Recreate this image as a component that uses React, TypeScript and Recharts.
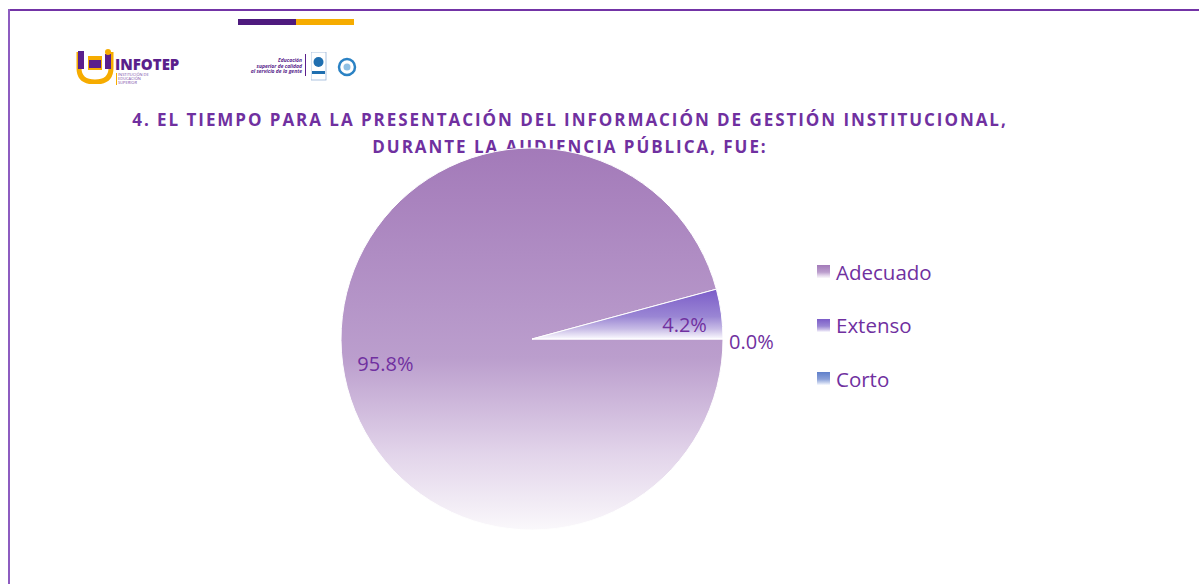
import { PieChart, Pie, Cell, Legend } from "recharts";

const categories = ["Adecuado", "Extenso", "Corto"];
const percentages = [95.8, 4.2, 0.0];
const titleLines = [
  "4. EL TIEMPO PARA LA PRESENTACIÓN DEL INFORMACIÓN DE GESTIÓN INSTITUCIONAL,",
  "DURANTE LA AUDIENCIA PÚBLICA, FUE:",
];

const gradients = [
  { id: "g-adecuado", top: "#a37ab9", mid: "#bb9ecd", low: "#e2d4ea", end: "#faf8fb" },
  { id: "g-extenso", top: "#7b5cc8", mid: "#9a86d4", low: "#c8bce6", end: "#fbfaff" },
  { id: "g-corto", top: "#5f7fca", mid: "#8aa0d8", low: "#c3cfec", end: "#f8faff" },
];

const data = categories.map((name, i) => ({ name, value: percentages[i] }));
const TEXT = "#7030a0";
const RAD = Math.PI / 180;

const renderLabel = (p: any) => {
  const { cx, cy, midAngle, outerRadius, value } = p;
  if (value === 0) {
    return (
      <text x={cx + outerRadius + 6} y={cy + 2} fill={TEXT} fontSize={20} fontFamily="Open Sans" textAnchor="start" dominantBaseline="central">
        {value.toFixed(1)}%
      </text>
    );
  }
  const r = outerRadius * 0.79;
  const x = cx + r * Math.cos(-midAngle * RAD) + 3;
  const y = cy + r * Math.sin(-midAngle * RAD) + 5;
  return (
    <text x={x} y={y} fill={TEXT} fontSize={20} fontFamily="Open Sans" textAnchor="middle" dominantBaseline="central">
      {value.toFixed(1)}%
    </text>
  );
};

const LegendBox = () => (
  <div style={{ fontFamily: "Open Sans", color: TEXT, fontSize: 20.5 }}>
    {categories.map((c, i) => (
      <div key={c} style={{ display: "flex", alignItems: "center", height: 53.5 }}>
        <svg width={13} height={13} style={{ marginRight: 6 }}>
          <rect width={13} height={13} fill={`url(#${gradients[i].id})`} />
        </svg>
        <span>{c}</span>
      </div>
    ))}
  </div>
);

export default function App() {
  return (
    <div style={{ position: "absolute", left: 0, top: 0, width: 1199, height: 584, background: "#fff", overflow: "hidden" }}>
      {/* frame */}
      <div style={{ position: "absolute", left: 8, top: 9, width: 1191, height: 2, background: "#7334a6" }} />
      <div style={{ position: "absolute", left: 8, top: 9, width: 2, height: 575, background: "#8d5cc0" }} />
      {/* top accent bar */}
      <div style={{ position: "absolute", left: 238, top: 19, width: 58, height: 6, background: "#4e1a7e" }} />
      <div style={{ position: "absolute", left: 296, top: 19, width: 58, height: 6, background: "#f6ac00" }} />

      {/* INFOTEP logo */}
      <svg style={{ position: "absolute", left: 76, top: 48 }} width={40} height={36}>
        <path d="M3 4 L3 20 Q3 34 19 34 Q35 34 35 20 L35 4" fill="none" stroke="#f6ac00" strokeWidth={5} />
        <rect x={2} y={3} width={6} height={18} fill="#5a1f8c" />
        <rect x={29} y={6} width={6} height={15} fill="#5a1f8c" />
        <circle cx={32} cy={4} r={3} fill="#f6ac00" />
        <rect x={12} y={8} width={14} height={14} fill="#f6ac00" />
        <rect x={13} y={12} width={12} height={8} fill="#5a1f8c" />
      </svg>
      <div style={{ position: "absolute", left: 115, top: 57, fontFamily: "Open Sans", fontWeight: 800, fontSize: 15, lineHeight: "15px", color: "#5a1f8c", letterSpacing: 0 }}>
        INFOTEP
      </div>
      <div style={{ position: "absolute", left: 116, top: 73, fontFamily: "Open Sans", fontSize: 4, lineHeight: "4px", color: "#7a4aa8", borderLeft: "1px solid #f6ac00", paddingLeft: 1 }}>
        INSTITUCIÓN DE<br />EDUCACIÓN<br />SUPERIOR
      </div>

      {/* right logo group */}
      <div style={{ position: "absolute", left: 240, top: 58, width: 62, textAlign: "right", fontFamily: "Open Sans", fontStyle: "italic", fontWeight: 700, fontSize: 5, lineHeight: "5.5px", color: "#5a1f8c" }}>
        Educación<br />superior de calidad<br />al servicio de la gente
      </div>
      <div style={{ position: "absolute", left: 305, top: 54, width: 1, height: 22, background: "#5a1f8c" }} />
      <svg style={{ position: "absolute", left: 311, top: 52 }} width={46} height={30}>
        <rect x={0} y={0} width={15} height={28} fill="#fff" stroke="#9ab3d6" strokeWidth={0.8} />
        <circle cx={7.5} cy={10} r={5} fill="#1f6fb0" />
        <rect x={1} y={19} width={13} height={3} fill="#1f6fb0" />
        <circle cx={36} cy={15} r={8} fill="#fff" stroke="#2b82c4" strokeWidth={2.5} />
        <circle cx={36} cy={15} r={3.5} fill="#8fc0e4" />
      </svg>

      {/* title */}
      <div style={{ position: "absolute", left: 0, top: 106, width: 1140, textAlign: "center", fontFamily: "Open Sans", fontWeight: 700, fontSize: 17, letterSpacing: 1.95, lineHeight: "27px", color: TEXT }}>
        {titleLines.map((t) => (
          <div key={t}>{t}</div>
        ))}
      </div>

      <div style={{ position: "absolute", left: 0, top: 0 }}>
        <PieChart width={1199} height={584} margin={{ top: 0, right: 0, bottom: 0, left: 0 }}>
          <defs>
            {gradients.map((g) => (
              <linearGradient key={g.id} id={g.id} x1="0" y1="0" x2="0" y2="1">
                <stop offset="0%" stopColor={g.top} />
                <stop offset="55%" stopColor={g.mid} />
                <stop offset="80%" stopColor={g.low} />
                <stop offset="100%" stopColor={g.end} />
              </linearGradient>
            ))}
          </defs>
          <Pie
            data={data}
            dataKey="value"
            nameKey="name"
            cx={532}
            cy={339}
            outerRadius={191}
            startAngle={0}
            endAngle={-360}
            stroke="#ffffff"
            strokeWidth={1}
            label={renderLabel}
            labelLine={false}
            isAnimationActive={false}
          >
            {data.map((d, i) => (
              <Cell key={d.name} fill={`url(#${gradients[i].id})`} />
            ))}
          </Pie>
          <Legend
            layout="vertical"
            content={() => <LegendBox />}
            wrapperStyle={{ position: "absolute", left: 817, top: 245, width: 200 }}
          />
        </PieChart>
      </div>
    </div>
  );
}
